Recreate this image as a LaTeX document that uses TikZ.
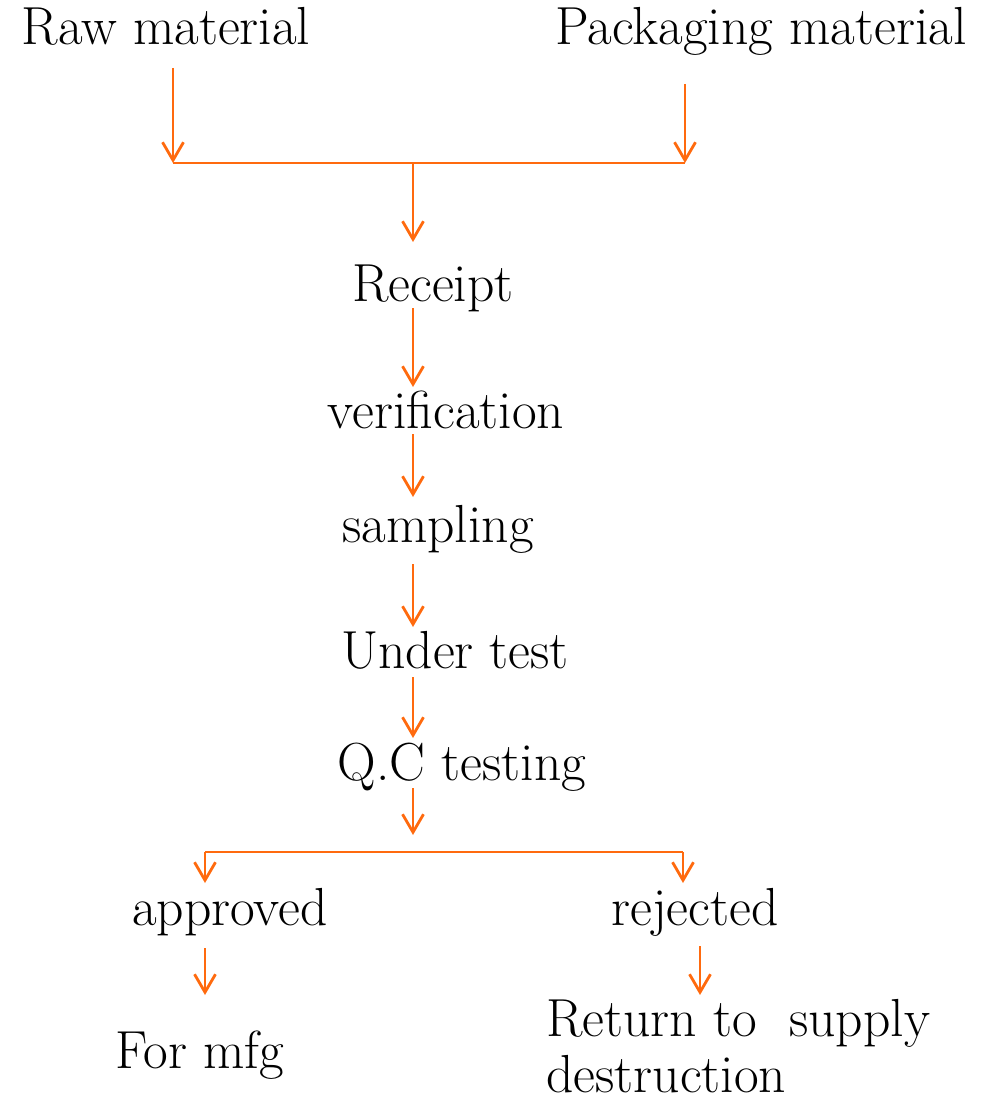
\documentclass[tikz,border=0pt]{standalone}
\definecolor{floworange}{RGB}{255,106,14}
\usepackage{tikz}
\usetikzlibrary{arrows.meta,calc,positioning}

\tikzset{
    stage/.style={font=\fontsize{30.5}{31.5}\selectfont, inner sep=0pt, anchor=base},
    flow/.style={floworange, line width=1.6pt, -{Straight Barb[length=0.36cm,width=0.42cm,line width=1.6pt]}},
    bus/.style={floworange, line width=1.6pt}
}

\begin{document}
\begin{tikzpicture}[x=0.02cm, y=-0.02cm]
            \useasboundingbox (0,0) rectangle (981,1098);

            % inputs
            \node[stage] (raw) at (166,45) {Raw material};
            \node[stage] (pack) at (761,45) {Packaging material};

            % main line of stages
            \node[stage] (receipt) at (433,301) {Receipt};
            \node[stage] (verif) at (446,428) {verification};
            \node[stage] (sampling) at (438,542) {sampling};
            \node[stage] (undertest) at (455,668) {Under test};
            \node[stage] (qctest) at (462,780) {Q.C testing};

            % outcome of testing
            \node[stage] (approved) at (230,925) {approved};
            \node[stage] (rejected) at (695,925) {rejected};
            \node[stage] (mfg) at (200,1068) {For mfg};
            \node[stage, align=left, anchor=base west] (return) at (546,1092) {Return to~~supply\\destruction};

            % junction points
            \coordinate (spine) at (413,0);
            \coordinate (in-l) at (173,163);
            \coordinate (in-r) at (685,163);
            \coordinate (in-m) at (413,163);
            \coordinate (out-m) at (413,852);
            \coordinate (out-l) at (205,852);
            \coordinate (out-r) at (683,852);
            \coordinate (rej-x) at (700,0);

            % merge the two inputs
            \draw[flow] ($(raw.base -| in-l)+(0,23)$) -- (in-l);
            \draw[flow] ($(pack.base -| in-r)+(0,39)$) -- (in-r);
            \draw[bus] (in-l) -- (in-r);
            \draw[flow] (in-m) -- ($(receipt.base -| spine)+(0,-59)$);

            \draw[flow] ($(receipt.base -| spine)+(0,7)$) -- ($(verif.base -| spine)+(0,-41)$);
            \draw[flow] ($(verif.base -| spine)+(0,6)$) -- ($(sampling.base -| spine)+(0,-45)$);
            \draw[flow] ($(sampling.base -| spine)+(0,22)$) -- ($(undertest.base -| spine)+(0,-41)$);
            \draw[flow] ($(undertest.base -| spine)+(0,9)$) -- ($(qctest.base -| spine)+(0,-42)$);
            \draw[flow] ($(qctest.base -| spine)+(0,8)$) -- ($(out-m)+(0,-17)$);

            % split into approved / rejected
            \draw[bus] (out-l) -- (out-r);
            \draw[flow] (out-l) -- ($(approved.base -| out-l)+(0,-42)$);
            \draw[flow] (out-r) -- ($(rejected.base -| out-r)+(0,-42)$);

            \draw[flow] ($(approved.base -| out-l)+(0,23)$) -- ($(mfg.base -| out-l)+(0,-73)$);
            \draw[flow] ($(rejected.base -| rej-x)+(0,21)$) -- ($(rejected.base -| rej-x)+(0,70)$);
        \end{tikzpicture}
\end{document}
